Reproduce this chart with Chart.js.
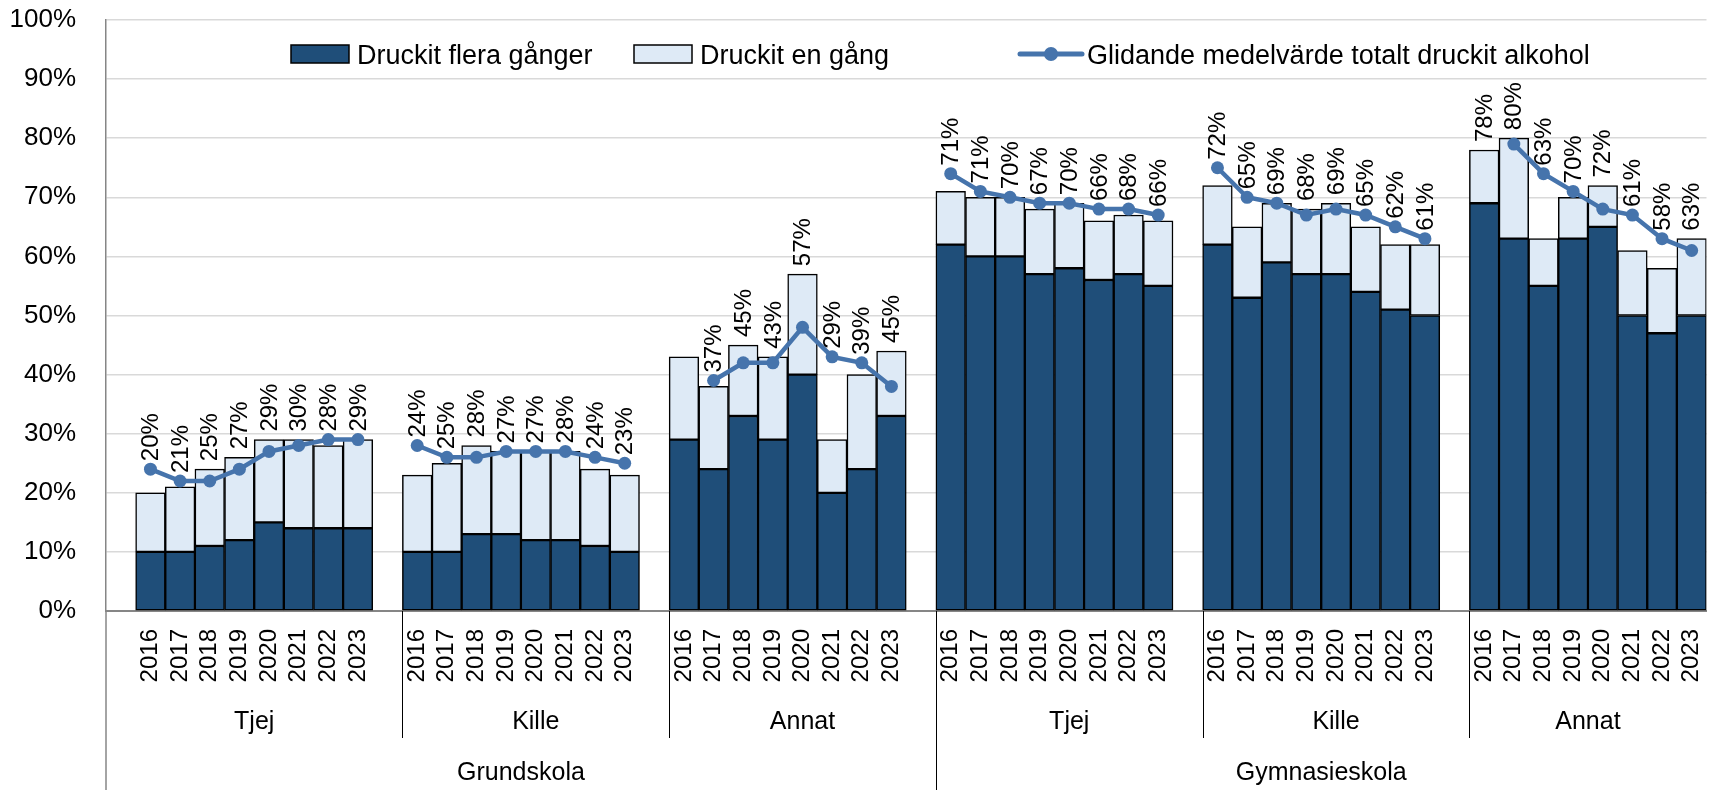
<!DOCTYPE html>
<html>
<head>
<meta charset="utf-8">
<script src="https://cdn.jsdelivr.net/npm/chart.js"></script>
<style>
  body { margin: 0; background: #fff; }
  canvas { display: block; }
</style>
</head>
<body>
<canvas id="alkohol" width="1713" height="790"></canvas>
<script>
const years = ['2016', '2017', '2018', '2019', '2020', '2021', '2022', '2023'];
const skolor = ['Grundskola', 'Gymnasieskola'];
const kon = ['Tjej', 'Kille', 'Annat'];

// grupper i ordning: Grundskola Tjej/Kille/Annat, Gymnasieskola Tjej/Kille/Annat
const fleraGanger = [
  [10, 10, 11, 12, 15, 14, 14, 14],
  [10, 10, 13, 13, 12, 12, 11, 10],
  [29, 24, 33, 29, 40, 20, 24, 33],
  [62, 60, 60, 57, 58, 56, 57, 55],
  [62, 53, 59, 57, 57, 54, 51, 50],
  [69, 63, 55, 63, 65, 50, 47, 50]
];
const enGang = [
  [10, 11, 13, 14, 14, 15, 14, 15],
  [13, 15, 15, 14, 15, 15, 13, 13],
  [14, 14, 12, 14, 17, 9, 16, 11],
  [9, 10, 10, 11, 11, 10, 10, 11],
  [10, 12, 10, 11, 12, 11, 11, 12],
  [9, 17, 8, 7, 7, 11, 11, 13]
];
const glidande = [
  [24, 22, 22, 24, 27, 28, 29, 29],
  [28, 26, 26, 27, 27, 27, 26, 25],
  [null, 39, 42, 42, 48, 43, 42, 38],
  [74, 71, 70, 69, 69, 68, 68, 67],
  [75, 70, 69, 67, 68, 67, 65, 63],
  [null, 79, 74, 71, 68, 67, 63, 61]
];
const totalt = [
  [20, 21, 25, 27, 29, 30, 28, 29],
  [24, 25, 28, 27, 27, 28, 24, 23],
  [null, 37, 45, 43, 57, 29, 39, 45],
  [71, 71, 70, 67, 70, 66, 68, 66],
  [72, 65, 69, 68, 69, 65, 62, 61],
  [78, 80, 63, 70, 72, 61, 58, 63]
];

// one empty slot before each group of eight years
const labels = [], flera = [], en = [], medel = [], etikett = [];
for (let g = 0; g < fleraGanger.length; g++) {
  labels.push(''); flera.push(null); en.push(null); medel.push(null); etikett.push(null);
  years.forEach((y, i) => {
    labels.push(y);
    flera.push(fleraGanger[g][i]);
    en.push(enGang[g][i]);
    medel.push(glidande[g][i]);
    etikett.push(totalt[g][i]);
  });
}

const FONT = '"Liberation Sans", Arial, sans-serif';
Chart.defaults.font.family = FONT;
Chart.defaults.color = '#000';

const etikettPlugin = {
  id: 'etiketter',
  afterDatasetsDraw(chart) {
    const ctx = chart.ctx;
    const y = chart.scales.y;
    const bars = chart.getDatasetMeta(0).data;
    ctx.save();
    ctx.font = '24px ' + FONT;
    ctx.fillStyle = '#000';
    ctx.textAlign = 'left';
    ctx.textBaseline = 'middle';
    etikett.forEach((v, i) => {
      if (v === null) return;
      const top = Math.max((flera[i] || 0) + (en[i] || 0), medel[i] || 0);
      const px = bars[i].x;
      const py = y.getPixelForValue(top) - 8;
      ctx.save();
      ctx.translate(px, py);
      ctx.rotate(-Math.PI / 2);
      ctx.fillText(v + '%', 0, 1);
      ctx.restore();
    });
    ctx.restore();
  }
};

const axelPlugin = {
  id: 'gruppaxel',
  afterDraw(chart) {
    const ctx = chart.ctx;
    const x = chart.scales.x;
    const area = chart.chartArea;
    const w = x.getPixelForValue(1) - x.getPixelForValue(0);
    const edge = k => area.left + k * w;
    const H = chart.height;
    ctx.save();
    // left axis continues down
    ctx.strokeStyle = '#868686';
    ctx.lineWidth = 1.5;
    ctx.beginPath();
    ctx.moveTo(area.left, area.bottom);
    ctx.lineTo(area.left, H);
    ctx.stroke();

    ctx.strokeStyle = '#000';
    ctx.lineWidth = 1;
    const n = years.length + 1;
    const groups = skolor.length * kon.length;
    for (let g = 1; g < groups; g++) {
      const bx = Math.round(edge(g * n + 1)) + 0.5;
      const full = g % kon.length === 0;
      ctx.beginPath();
      ctx.moveTo(bx, area.bottom);
      ctx.lineTo(bx, full ? H : area.bottom + 127);
      ctx.stroke();
    }

    ctx.font = '25px ' + FONT;
    ctx.fillStyle = '#000';
    ctx.textAlign = 'center';
    ctx.textBaseline = 'middle';
    for (let g = 0; g < groups; g++) {
      const a = g === 0 ? 0 : g * n + 1;
      const b = g === groups - 1 ? labels.length : (g + 1) * n + 1;
      ctx.fillText(kon[g % kon.length], (edge(a) + edge(b)) / 2, area.bottom + 111);
    }
    skolor.forEach((s, k) => {
      const a = k === 0 ? 0 : k * kon.length * n + 1;
      const b = k === skolor.length - 1 ? labels.length : (k + 1) * kon.length * n + 1;
      ctx.fillText(s, (edge(a) + edge(b)) / 2, area.bottom + 162);
    });
    ctx.restore();
  }
};

const legendPlugin = {
  id: 'egenLegend',
  afterDraw(chart) {
    const ctx = chart.ctx;
    const ds = chart.data.datasets;
    const cy = 54;
    ctx.save();
    ctx.font = '27px ' + FONT;
    ctx.fillStyle = '#000';
    ctx.textBaseline = 'alphabetic';
    ctx.textAlign = 'left';
    [[291, ds[0]], [634, ds[1]]].forEach(([lx, d]) => {
      ctx.fillStyle = d.backgroundColor;
      ctx.fillRect(lx, cy - 9, 58, 18);
      ctx.strokeStyle = '#000';
      ctx.lineWidth = 1.5;
      ctx.strokeRect(lx, cy - 9, 58, 18);
      ctx.fillStyle = '#000';
      ctx.fillText(d.label, lx + 66, cy + 10);
    });
    const d = ds[2];
    const lx = 1020;
    ctx.strokeStyle = d.borderColor;
    ctx.lineWidth = 5;
    ctx.lineCap = 'round';
    ctx.beginPath();
    ctx.moveTo(lx, cy);
    ctx.lineTo(lx + 62, cy);
    ctx.stroke();
    ctx.fillStyle = d.borderColor;
    ctx.beginPath();
    ctx.arc(lx + 31, cy, 7, 0, Math.PI * 2);
    ctx.fill();
    ctx.fillStyle = '#000';
    ctx.fillText(d.label, lx + 67, cy + 10);
    ctx.restore();
  }
};

new Chart(document.getElementById('alkohol'), {
  type: 'bar',
  data: {
    labels: labels,
    datasets: [
      {
        label: 'Druckit flera gånger',
        data: flera,
        backgroundColor: '#1F4E79',
        borderColor: '#000',
        borderWidth: 1.5,
        borderSkipped: false,
        stack: 'staplar',
        order: 2
      },
      {
        label: 'Druckit en gång',
        data: en,
        backgroundColor: '#DEEAF6',
        borderColor: '#000',
        borderWidth: 1.5,
        borderSkipped: false,
        stack: 'staplar',
        order: 2
      },
      {
        type: 'line',
        label: 'Glidande medelvärde totalt druckit alkohol',
        data: medel,
        borderColor: '#4674AC',
        backgroundColor: '#4674AC',
        borderWidth: 4.5,
        pointRadius: 6.5,
        pointBorderWidth: 0,
        pointBackgroundColor: '#4674AC',
        spanGaps: false,
        tension: 0,
        stack: 'linje',
        order: 0
      }
    ]
  },
  options: {
    responsive: false,
    animation: false,
    layout: { padding: { top: 20, right: 0, left: 0, bottom: 0 } },
    datasets: {
      bar: { barPercentage: 1, categoryPercentage: 1 }
    },
    plugins: {
      legend: { display: false },
      tooltip: { enabled: false }
    },
    scales: {
      x: {
        stacked: true,
        grid: { display: false, drawTicks: false },
        border: { display: true, color: '#868686', width: 2 },
        ticks: {
          autoSkip: false,
          maxRotation: 90,
          minRotation: 90,
          padding: 18,
          font: { size: 24 }
        },
        afterFit(scale) {
          scale.height = 179;
          scale.paddingLeft = 0;
          scale.paddingRight = 0;
        }
      },
      y: {
        stacked: true,
        min: 0,
        max: 100,
        grid: { color: '#D9D9D9', lineWidth: 1.5, drawTicks: false },
        border: { display: true, color: '#868686', width: 1.5 },
        ticks: {
          stepSize: 10,
          padding: 30,
          font: { size: 26 },
          callback: v => v + '%'
        },
        afterFit(scale) {
          scale.width = 106;
          scale.paddingTop = 0;
          scale.paddingBottom = 0;
        }
      }
    }
  },
  plugins: [etikettPlugin, axelPlugin, legendPlugin]
});
</script>
</body>
</html>
